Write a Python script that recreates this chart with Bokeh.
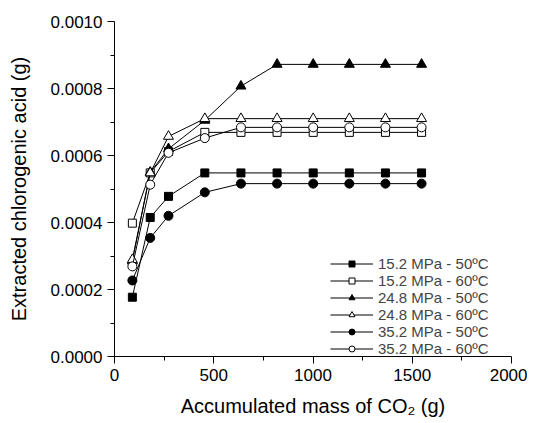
from bokeh.plotting import figure
from bokeh.models import Range1d, FixedTicker, NumeralTickFormatter, Legend, LegendItem
from bokeh.embed import file_html
from bokeh.resources import INLINE

mass = [90, 180, 272, 455, 637, 819, 1001, 1183, 1365, 1547]

s_152_50 = [0.000177, 0.000415, 0.000478, 0.000548, 0.000548, 0.000548, 0.000548, 0.000548, 0.000548, 0.000548]
s_152_60 = [0.000398, 0.000548, 0.000612, 0.000669, 0.000669, 0.000669, 0.000669, 0.000669, 0.000669, 0.000669]
s_248_50 = [0.000285, 0.000550, 0.000620, 0.000705, 0.000807, 0.000872, 0.000872, 0.000872, 0.000872, 0.000872]
s_248_60 = [0.000289, 0.000548, 0.000657, 0.000710, 0.000710, 0.000710, 0.000710, 0.000710, 0.000710, 0.000710]
s_352_50 = [0.000227, 0.000354, 0.000420, 0.000490, 0.000516, 0.000516, 0.000516, 0.000516, 0.000516, 0.000516]
s_352_60 = [0.000269, 0.000513, 0.000608, 0.000652, 0.000684, 0.000684, 0.000684, 0.000684, 0.000684, 0.000684]

labels = ["15.2 MPa - 50ºC", "15.2 MPa - 60ºC", "24.8 MPa - 50ºC",
          "24.8 MPa - 60ºC", "35.2 MPa - 50ºC", "35.2 MPa - 60ºC"]
series = [s_152_50, s_152_60, s_248_50, s_248_60, s_352_50, s_352_60]
markers = ["square", "square", "triangle", "triangle", "circle", "circle"]
fills = ["black", "white", "black", "white", "black", "white"]
sizes = [8, 8, 10, 10, 9, 9]

x_ticks = [0, 500, 1000, 1500, 2000]
x_minor = [250, 750, 1250, 1750]
y_ticks = [0.0, 0.0002, 0.0004, 0.0006, 0.0008, 0.0010]
y_minor = [0.0001, 0.0003, 0.0005, 0.0007, 0.0009]

FONT = "Liberation Sans"

p = figure(width=527, height=423, output_backend="svg", toolbar_location=None,
           x_range=Range1d(0, 2000), y_range=Range1d(0, 0.001),
           min_border_left=114, min_border_top=21, min_border_right=16, min_border_bottom=67)
p.outline_line_color = None
p.xgrid.visible = False
p.ygrid.visible = False

p.xaxis.ticker = FixedTicker(ticks=x_ticks, minor_ticks=x_minor)
p.yaxis.ticker = FixedTicker(ticks=y_ticks, minor_ticks=y_minor)
p.yaxis.formatter = NumeralTickFormatter(format="0.0000")

for ax in (p.xaxis[0], p.yaxis[0]):
    ax.axis_line_color = "black"
    ax.axis_line_width = 1
    ax.major_tick_line_color = "black"
    ax.minor_tick_line_color = "black"
    ax.major_tick_out = 7
    ax.major_tick_in = 0
    ax.minor_tick_out = 4
    ax.minor_tick_in = 0
    ax.major_label_text_font = FONT
    ax.major_label_text_font_size = "17px"
    ax.major_label_text_color = "black"
    ax.axis_label_text_font = FONT
    ax.axis_label_text_font_size = "20px"
    ax.axis_label_text_font_style = "normal"
    ax.axis_label_text_color = "black"

p.xaxis.axis_label = "Accumulated mass of CO₂ (g)"
p.yaxis.axis_label = "Extracted chlorogenic acid (g)"
p.xaxis.major_label_standoff = 5
p.yaxis.major_label_standoff = 5
p.xaxis.axis_label_standoff = 11
p.yaxis.axis_label_standoff = 18

items = []
for lab, ys, mk, fc, sz in zip(labels, series, markers, fills, sizes):
    r1 = p.line(mass, ys, line_color="black", line_width=1)
    r2 = p.scatter(mass, ys, marker=mk, size=sz, fill_color=fc, line_color="black", line_width=1)
    items.append(LegendItem(label=lab, renderers=[r1, r2]))

legend = Legend(items=items, location=(216, -1), border_line_color=None,
                background_fill_alpha=0, label_text_font=FONT,
                label_text_font_size="15px",
                glyph_width=43, glyph_height=15,
                label_height=15, spacing=0, padding=2, margin=0, label_standoff=5)
p.add_layout(legend, "center")

open("out.html", "w").write(file_html(p, INLINE))
